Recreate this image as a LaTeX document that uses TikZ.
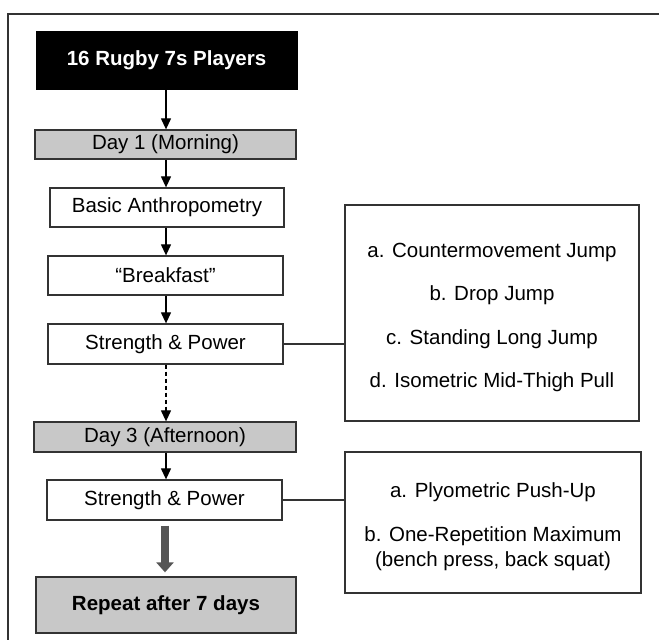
\documentclass[tikz,border=0pt]{standalone}
\usepackage{fontspec}
\setmainfont{Liberation Sans}
\usetikzlibrary{arrows.meta,calc}
\definecolor{boxgray}{HTML}{C8C8C8}
\definecolor{linegray}{HTML}{333333}
\definecolor{arrowgray}{HTML}{555555}
\begin{document}
\begin{tikzpicture}[x=1pt,y=-1pt,
  every node/.style={font=\fontsize{20.5}{24}\selectfont, text=black, inner sep=0pt},
  stepbox/.style={draw=linegray, line width=1.3pt, fill=white, minimum width=#1, align=center},
  graybox/.style={draw=linegray, line width=1.3pt, fill=boxgray, minimum width=#1, align=center},
  flow/.style={draw=black, line width=1.2pt, -{Triangle[width=10pt,length=11pt]}},
  link/.style={draw=linegray, line width=1.2pt}]
\useasboundingbox (0,0) rectangle (659,640);
\draw[linegray, line width=1.5pt] (8,640) -- (8,14) -- (659,14);

\node[fill=black, draw=black, minimum width=261pt, minimum height=58pt, text=white, font=\fontsize{20.5}{24}\selectfont\bfseries] (title) at (166.5,60) {16 Rugby 7s Players};
\node[graybox=261pt, minimum height=29pt] (day1) at (165.5,144.5) {Day 1 (Morning)};
\node[stepbox=234pt, minimum height=39pt] (anthro) at (167,207.5) {Basic Anthropometry};
\node[stepbox=235pt, minimum height=39pt] (bfast) at (165.5,275.5) {“Breakfast”};
\node[stepbox=235pt, minimum height=40pt] (sp1) at (165.5,344) {Strength \& Power};
\node[graybox=262pt, minimum height=30pt] (day3) at (165,437) {Day 3 (Afternoon)};
\node[stepbox=235pt, minimum height=40pt] (sp2) at (164.5,500) {Strength \& Power};
\node[graybox=260pt, minimum height=56pt, font=\fontsize{20.5}{24}\selectfont\bfseries] (rep) at (166,605) {Repeat after 7 days};

\node[stepbox=294pt, minimum height=216pt, font=\fontsize{20.5}{43.5}\selectfont] (list1) at (492,313)
  {\rule{0pt}{23pt}a. Countermovement Jump\\b. Drop Jump\\c. Standing Long Jump\\d. Isometric Mid-Thigh Pull};
\node[stepbox=296pt, minimum height=141pt, font=\fontsize{20.5}{25}\selectfont] (list2) at (493,522.5)
  {\rule{0pt}{23pt}a. Plyometric Push-Up\\[19pt]b. One-Repetition Maximum\\(bench press, back squat)};

\draw[flow] (title.south -| 166,0) -- (day1.north -| 166,0);
\draw[flow] (day1.south -| 166,0) -- (anthro.north -| 166,0);
\draw[flow] (anthro.south -| 166,0) -- (bfast.north -| 166,0);
\draw[flow] (bfast.south -| 166,0) -- (sp1.north -| 166,0);
\draw[flow, dashed, dash pattern=on 4pt off 3pt] (sp1.south -| 166,0) -- (day3.north -| 166,0);
\draw[flow] (day3.south -| 166,0) -- (sp2.north -| 166,0);
\draw[arrowgray, line width=8pt, -{Triangle[width=17pt,length=10pt]}] ($(sp2.south -| 165,0)+(0,5)$) -- ($(rep.north -| 165,0)+(0,-4)$);

\draw[link] (sp1.east) -- (sp1.east -| list1.west);
\draw[link] (sp2.east) -- (sp2.east -| list2.west);
\end{tikzpicture}
\end{document}
